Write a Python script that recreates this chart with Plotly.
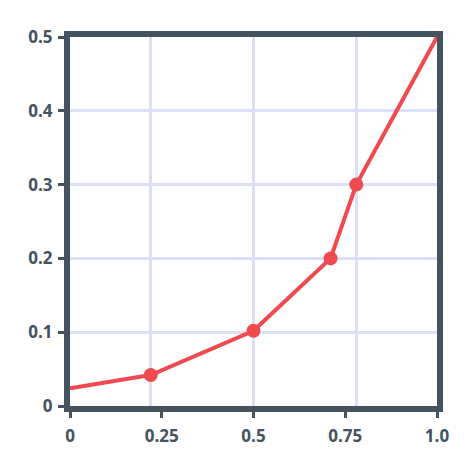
import plotly.graph_objects as go

x_vals = [0, 0.22, 0.5, 0.71, 0.78, 1.0]
y_vals = [0.024, 0.042, 0.102, 0.2, 0.3, 0.5]
marker_flags = [False, True, True, True, True, False]

x_tick_vals = [0, 0.25, 0.5, 0.75, 1.0]
x_tick_text = ["0", "0.25", "0.5", "0.75", "1.0"]
x_grid_vals = [0.22, 0.5, 0.78]
y_tick_vals = [0, 0.1, 0.2, 0.3, 0.4, 0.5]
y_tick_text = ["0", "0.1", "0.2", "0.3", "0.4", "0.5"]

dark = "#44535e"
grid = "#dcdff5"
red = "#ee4a4f"

fig = go.Figure()
fig.add_trace(go.Scatter(
    x=x_vals, y=y_vals, mode="lines",
    line=dict(color=red, width=4), cliponaxis=False, hoverinfo="skip"))
fig.add_trace(go.Scatter(
    x=[x for x, m in zip(x_vals, marker_flags) if m],
    y=[y for y, m in zip(y_vals, marker_flags) if m],
    mode="markers", marker=dict(color=red, size=14), cliponaxis=False))

axis_common = dict(
    showline=True, linecolor=dark, linewidth=6, mirror=True,
    ticks="outside", ticklen=6, tickwidth=3, tickcolor=dark,
    zeroline=False, automargin=False,
    tickfont=dict(family="Open Sans", size=17, color=dark, weight=700),
)
fig.update_layout(
    width=474, height=474,
    margin=dict(l=62, r=45, t=29, b=76),
    paper_bgcolor="white", plot_bgcolor="white",
    showlegend=False,
    xaxis=dict(range=[0, 1], tickmode="array", tickvals=x_tick_vals, ticktext=x_tick_text,
               showgrid=False,
               minor=dict(tickmode="array", tickvals=x_grid_vals, showgrid=True,
                          gridcolor=grid, gridwidth=3, ticks=""),
               ticklabelstandoff=4,
               **axis_common),
    yaxis=dict(range=[0, 0.5], tickmode="array", tickvals=y_tick_vals, ticktext=y_tick_text,
               showgrid=True, gridcolor=grid, gridwidth=3, ticklabelstandoff=2,
               **axis_common),
)
fig.write_html("out.html")
